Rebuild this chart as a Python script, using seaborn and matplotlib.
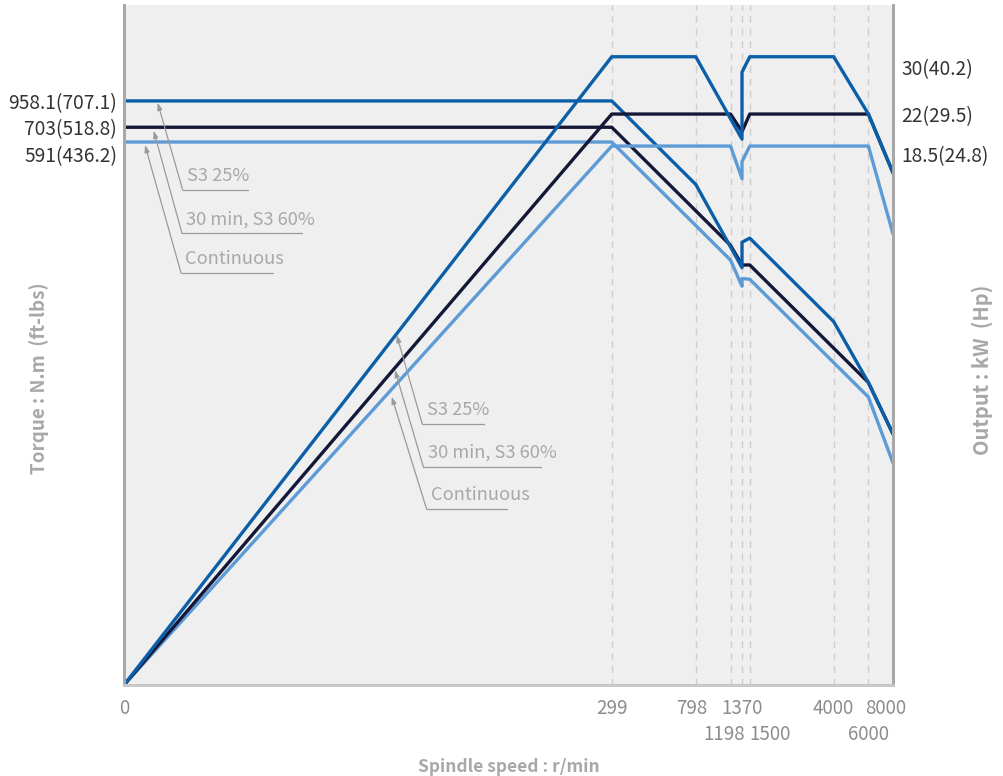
import matplotlib
matplotlib.use("Agg")
import matplotlib.pyplot as plt
import matplotlib.transforms as mtransforms
import pandas as pd
import seaborn as sns

# Data (speed in r/min, torque in N.m, output in kW)
# speed 1 stands for the "0" origin of the log axes
speed_s3_25 = [1, 299, 798, 1370, 1370, 1500, 4000, 6000, 8000]
torque_s3_25 = [958.1, 958.1, 359, 135, 182, 191, 71.6, 35.0, 19.1]
power_s3_25 = [1, 30, 30, 19.2, 27.6, 30, 30, 22, 16.0]

speed_s3_60 = [1, 299, 1198, 1370, 1500, 6000, 8000]
torque_s3_60 = [703, 703, 175.4, 139.3, 139.3, 35.0, 19.1]
power_s3_60 = [1, 22, 22, 20.0, 22, 22, 16.0]

speed_cont = [1, 299, 1198, 1370, 1370, 1500, 6000, 8000]
torque_cont = [591, 591, 147.5, 108.5, 118.8, 117.8, 29.5, 13.6]
power_cont = [1, 18.5, 18.5, 15.5, 17.0, 18.5, 18.5, 11.5]

series_names = ["S3 25%", "30 min, S3 60%", "Continuous"]
series_colors = ["#0b5fa8", "#141838", "#5d9bd6"]

speed_ticks_top = [1, 299, 798, 1370, 4000, 8000]
speed_labels_top = ["0", "299", "798", "1370", "4000", "8000"]
speed_ticks_bottom = [1198, 1500, 6000]
speed_labels_bottom = ["1198", "1500", "6000"]
grid_speeds = [299, 798, 1198, 1370, 1500, 4000, 6000]

torque_ticks = [958.1, 703, 591]
torque_labels = ["958.1(707.1)", "703(518.8)", "591(436.2)"]
power_ticks = [30, 22, 18.5]
power_labels = ["30(40.2)", "22(29.5)", "18.5(24.8)"]

sns.set_theme(style="white")
plt.rcParams["font.family"] = ["Noto Sans CJK KR", "DejaVu Sans"]

torque_df = pd.concat([
    pd.DataFrame({"speed": speed_s3_25, "value": torque_s3_25, "series": series_names[0]}),
    pd.DataFrame({"speed": speed_s3_60, "value": torque_s3_60, "series": series_names[1]}),
    pd.DataFrame({"speed": speed_cont, "value": torque_cont, "series": series_names[2]}),
])
power_df = pd.concat([
    pd.DataFrame({"speed": speed_s3_25, "value": power_s3_25, "series": series_names[0]}),
    pd.DataFrame({"speed": speed_s3_60, "value": power_s3_60, "series": series_names[1]}),
    pd.DataFrame({"speed": speed_cont, "value": power_cont, "series": series_names[2]}),
])
palette = dict(zip(series_names, series_colors))

fig = plt.figure(figsize=(10.04, 7.76), dpi=100)
ax = fig.add_axes([124 / 1004, 91 / 776, 769 / 1004, 680 / 776])
ax2 = ax.twinx()
ax.set_facecolor("#efefef")
ax2.patch.set_visible(False)

# draw continuous first so S3 25% ends up on top
for name in series_names[::-1]:
    sns.lineplot(data=power_df[power_df.series == name], x="speed", y="value", color=palette[name],
                 ax=ax2, linewidth=2.4, sort=False, estimator=None, legend=False)
    sns.lineplot(data=torque_df[torque_df.series == name], x="speed", y="value", color=palette[name],
                 ax=ax, linewidth=2.4, sort=False, estimator=None, legend=False)

for a in (ax, ax2):
    a.set_xscale("log")
    a.set_xlim(1, 8000)
    a.set_yscale("log")
    a.minorticks_off()
ax.set_ylim(1, 2958)
ax2.set_ylim(1, 39.7)

for s in grid_speeds:
    ax.axvline(s, color="#cfcfcf", linestyle=(0, (5, 4)), linewidth=1, zorder=0)

# axis frame
for a in (ax, ax2):
    a.spines["top"].set_visible(False)
    a.spines["left"].set_color("#a8a8a8")
    a.spines["right"].set_color("#a8a8a8")
    a.spines["bottom"].set_color("#c8c8c8")
    for sp in a.spines.values():
        sp.set_linewidth(2)

# x ticks on two rows, a few nudged sideways so they do not collide
ax.set_xticks(speed_ticks_top + speed_ticks_bottom)
ax.set_xticklabels(speed_labels_top + speed_labels_bottom)
ax.tick_params(axis="x", length=0, pad=9, labelsize=13.5, labelcolor="#8c8c8c")
nudge_x = {"1198": -6, "1500": 20, "8000": -7, "798": -4}
for lbl in ax.get_xticklabels():
    t = lbl.get_text()
    dy = -26 if t in speed_labels_bottom else 0
    dx = nudge_x.get(t, 0)
    if dx or dy:
        lbl.set_transform(lbl.get_transform() + mtransforms.ScaledTranslation(dx / 100, dy / 100, fig.dpi_scale_trans))

# y ticks
ax.set_yticks(torque_ticks)
ax.set_yticklabels(torque_labels)
ax.tick_params(axis="y", length=0, pad=5, labelsize=13.8, labelcolor="#333333")
ax2.set_yticks(power_ticks)
ax2.set_yticklabels(power_labels)
ax2.tick_params(axis="y", length=0, pad=6, labelsize=13.8, labelcolor="#333333")
shift_left = {"591(436.2)": -12}
shift_right = {"30(40.2)": -10, "18.5(24.8)": -8}
for lbl in ax.get_yticklabels():
    if lbl.get_text() in shift_left:
        lbl.set_transform(lbl.get_transform() + mtransforms.ScaledTranslation(0, shift_left[lbl.get_text()] / 100, fig.dpi_scale_trans))
for lbl in ax2.get_yticklabels():
    if lbl.get_text() in shift_right:
        lbl.set_transform(lbl.get_transform() + mtransforms.ScaledTranslation(0, shift_right[lbl.get_text()] / 100, fig.dpi_scale_trans))

ax.set_xlabel("Spindle speed : r/min", fontsize=12.5, color="#a8a8a8", fontweight="bold")
ax.xaxis.set_label_coords(0.5, -0.108)
ax.set_ylabel("Torque : N.m  (ft-lbs)", fontsize=13.5, color="#a8a8a8", fontweight="bold")
ax.yaxis.set_label_coords(-0.097, 0.451)
ax2.set_ylabel("Output : kW  (Hp)", fontsize=14.5, color="#a8a8a8", fontweight="bold")
ax2.yaxis.set_label_coords(1.102, 0.463)

# leader-line callouts (axes fraction positions)
callouts = [
    # tip, corner, underline end, label
    ((0.0438, 0.8563), (0.0763, 0.7280), 0.1616, series_names[0]),
    ((0.0386, 0.8151), (0.0754, 0.6643), 0.2311, series_names[1]),
    ((0.0273, 0.7941), (0.0741, 0.6063), 0.1941, series_names[2]),
    ((0.3546, 0.5147), (0.3879, 0.3838), 0.4681, series_names[0]),
    ((0.3524, 0.4632), (0.3892, 0.3210), 0.5419, series_names[1]),
    ((0.3481, 0.4240), (0.3936, 0.2584), 0.4977, series_names[2]),
]
for tip, corner, end, text in callouts:
    ax2.annotate("", xy=tip, xycoords="axes fraction", xytext=corner, textcoords="axes fraction",
                 arrowprops=dict(arrowstyle="-|>,head_length=0.35,head_width=0.12", color="#9a9a9a",
                                 linewidth=0.9, shrinkA=0, shrinkB=0))
    ax2.plot([corner[0], end], [corner[1], corner[1]], color="#9a9a9a", linewidth=0.9,
             transform=ax2.transAxes, clip_on=False)
    ax2.text(corner[0] + 0.0055, corner[1] + 0.0075, text, transform=ax2.transAxes, fontsize=13.2,
             color="#a8a8a8", ha="left", va="bottom")

fig.savefig("out.png", dpi=100)
